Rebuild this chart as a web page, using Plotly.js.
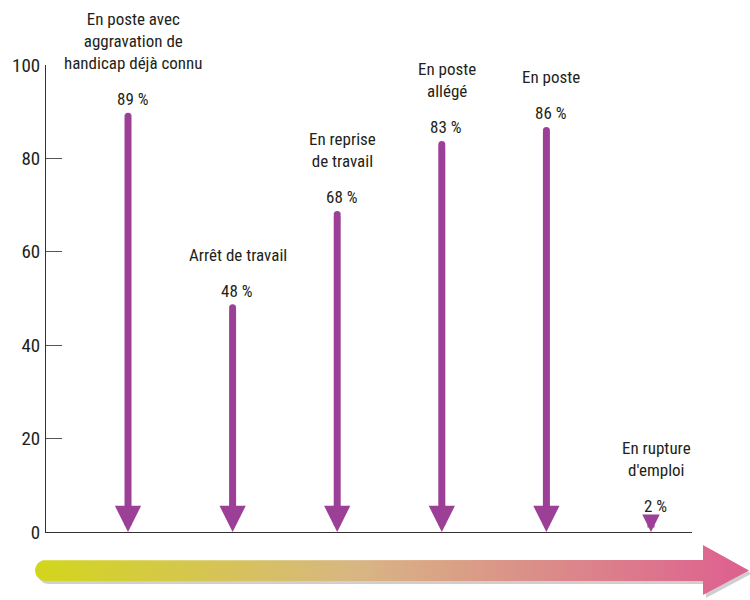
<!DOCTYPE html>
<html>
<head>
<meta charset="utf-8">
<script src="https://cdn.plot.ly/plotly-3.0.1.min.js"></script>
<style>html,body{margin:0;padding:0;background:#fff;}#chart{width:750px;height:600px;}</style>
</head>
<body>
<div id="chart"></div>
<script>
// ---- data ----
const categories = [
  'En poste avec<br>aggravation de<br>handicap déjà connu',
  'Arrêt de travail',
  'En reprise<br>de travail',
  'En poste<br>allégé',
  'En poste',
  'En rupture<br>d\'emploi'
];
const values = [89, 48, 68, 83, 86, 2];
const valueLabels = ['89 %', '48 %', '68 %', '83 %', '86 %', '2 %'];
const yTicks = [0, 20, 40, 60, 80, 100];

// ---- style ----
const PURPLE = '#9c3f97';
const TEXT = '#231f20';
const FONT = '"Roboto Condensed", "Liberation Sans Narrow", "DejaVu Sans Condensed", Arial, sans-serif';
const PX_PER_UNIT = 467 / 100;   // plot height / y range, used only to size the small arrowheads
const HEAD_PX = 26;

// decorative bottom arrow (pixel geometry on a helper axis pair)
function arrowPath(dx, dy) {
  const xs = [], ys = [];
  const yTop = 560, yBot = 581, r = (yBot - yTop) / 2, cy = (yTop + yBot) / 2;
  const xl = 35 + r, xh = 703;
  xs.push(xh); ys.push(yTop);
  xs.push(xl); ys.push(yTop);
  for (let i = 1; i < 16; i++) {
    const a = -Math.PI / 2 - Math.PI * i / 16;
    xs.push(xl + r * Math.cos(a)); ys.push(cy + r * Math.sin(a));
  }
  xs.push(xl); ys.push(yBot);
  xs.push(xh); ys.push(yBot);
  xs.push(xh); ys.push(595);
  xs.push(749); ys.push(cy);
  xs.push(xh); ys.push(545);
  xs.push(xh); ys.push(yTop);
  return {x: xs.map(v => v + dx), y: ys.map(v => v + dy)};
}
const shadow = arrowPath(3, 3);
const main = arrowPath(0, 0);

const traces = [
  {
    type: 'scatter', mode: 'markers', x: categories, y: values,
    marker: {symbol: 'circle', size: 7, color: PURPLE},
    hoverinfo: 'skip', showlegend: false, cliponaxis: false
  },
  {
    type: 'scatter', mode: 'lines', x: shadow.x, y: shadow.y, xaxis: 'x2', yaxis: 'y2',
    fill: 'toself', fillcolor: '#cfcfcf', line: {width: 0}, hoverinfo: 'skip', showlegend: false
  },
  {
    type: 'scatter', mode: 'lines', x: main.x, y: main.y, xaxis: 'x2', yaxis: 'y2',
    fill: 'toself', line: {width: 0}, hoverinfo: 'skip', showlegend: false,
    fillgradient: {type: 'horizontal', start: 35, stop: 749,
      colorscale: [[0, '#d2d61c'], [0.45, '#d8b683'], [1, '#de5f90']]}
  }
];

const annotations = [];
categories.forEach((c, i) => {
  const shaftPx = values[i] * PX_PER_UNIT;
  const size = shaftPx < HEAD_PX ? 0.5 : 0.75;
  annotations.push({
    xref: 'x', yref: 'y', x: c, y: 0, axref: 'x', ayref: 'y', ax: c, ay: values[i],
    text: '', showarrow: true, arrowhead: 2, arrowsize: size, arrowwidth: 7,
    arrowcolor: PURPLE, standoff: 0, startstandoff: 0, font: {size: 1}
  });
  annotations.push({
    xref: 'x', yref: 'y', x: c, y: values[i], text: valueLabels[i], showarrow: false,
    yanchor: 'middle', xanchor: 'center', yshift: 17, xshift: 4,
    font: {family: FONT, size: 17, color: TEXT}
  });
  annotations.push({
    xref: 'x', yref: 'y', x: c, y: values[i], text: c, showarrow: false,
    yanchor: 'bottom', xanchor: 'center', yshift: 41, xshift: 5,
    font: {family: FONT, size: 17, color: TEXT}
  });
});

const layout = {
  width: 750, height: 600,
  margin: {l: 30, r: 0, t: 65, b: 0},
  paper_bgcolor: '#ffffff', plot_bgcolor: 'rgba(0,0,0,0)',
  showlegend: false,
  font: {family: FONT, size: 17, color: TEXT},
  xaxis: {
    type: 'category', categoryorder: 'array', categoryarray: categories,
    domain: [16 / 720, 662 / 720], range: [-0.784, 5.392], anchor: 'y',
    showticklabels: false, ticks: '', showgrid: false, zeroline: false,
    showline: true, linecolor: '#333333', linewidth: 1, fixedrange: true, automargin: false
  },
  yaxis: {
    domain: [68 / 535, 1], range: [0, 100], anchor: 'x',
    tickvals: yTicks, ticktext: yTicks.map(String),
    ticks: 'inside', ticklen: 16, tickwidth: 1, tickcolor: '#555555',
    ticklabelstandoff: 1,
    tickfont: {family: FONT, size: 19, color: TEXT},
    showgrid: false, zeroline: false,
    showline: true, linecolor: '#333333', linewidth: 1, fixedrange: true, automargin: false
  },
  xaxis2: {domain: [0, 1], range: [30, 750], anchor: 'y2', visible: false, fixedrange: true},
  yaxis2: {domain: [0, 0.12], range: [600, 535.8], anchor: 'x2', visible: false, fixedrange: true},
  annotations: annotations
};

Plotly.newPlot('chart', traces, layout, {displayModeBar: false, staticPlot: true});
</script>
</body>
</html>
